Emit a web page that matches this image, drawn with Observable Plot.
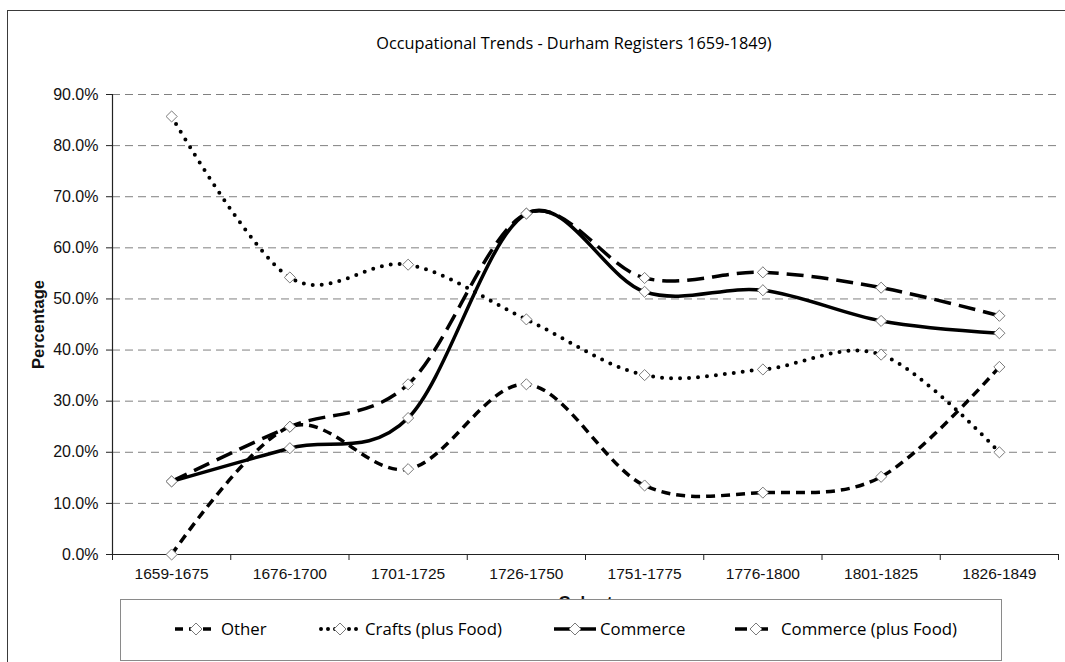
<!DOCTYPE html>
<html>
<head>
<meta charset="utf-8">
<script src="https://cdn.jsdelivr.net/npm/d3@7"></script>
<script src="https://cdn.jsdelivr.net/npm/@observablehq/plot@0.6"></script>
<style>
  html, body { margin: 0; padding: 0; background: #fff; overflow: hidden; }
  #wrap { position: relative; width: 1065px; height: 662px; overflow: hidden; }
  #frame { position: absolute; left: 7px; top: 10px; width: 1070px; height: 670px; border: 1.5px solid #3a3a3a; box-sizing: border-box; }
  #title { position: absolute; left: 0; width: 1148px; top: 32px; text-align: center; font-family: "Open Sans", "Noto Sans", sans-serif; font-size: 16.3px; color: #000; }
  #chart { position: absolute; left: 0; top: 0; }
  #legend { position: absolute; left: 120px; top: 599px; width: 882px; height: 62px; border: 1.5px solid #8a8a8a; box-sizing: border-box; background: #fff; font-family: "Open Sans", "Noto Sans", sans-serif; font-size: 16.8px; color: #000; }
  .item { position: absolute; top: 17px; display: flex; align-items: center; white-space: nowrap; }
  .item svg { margin-right: 3px; }
  #chart svg text { font-family: "Liberation Sans", Arial, sans-serif; }
  #chart svg g[aria-label="y-axis tick label"] { font-size: 16px; }
  #chart svg g[aria-label="x-axis tick label"] { font-size: 15.5px; }
  #chart svg g[aria-label="y-axis label"], #chart svg g[aria-label="x-axis label"] { font-weight: bold; font-size: 16.5px; }
</style>
</head>
<body>
<div id="wrap">
  <div id="frame"></div>
  <div id="chart"></div>
  <div id="title"></div>
  <div id="legend"></div>
</div>
<script>
// ---- Data (percent values) ----
const categories = ["1659-1675", "1676-1700", "1701-1725", "1726-1750", "1751-1775", "1776-1800", "1801-1825", "1826-1849"];
const seriesNames = ["Other", "Crafts (plus Food)", "Commerce", "Commerce (plus Food)"];
const other            = [0.0, 25.0, 16.7, 33.3, 13.5, 12.1, 15.2, 36.7];
const crafts           = [85.7, 54.2, 56.7, 46.0, 35.1, 36.2, 39.1, 20.0];
const commerce         = [14.3, 20.8, 26.7, 66.7, 51.4, 51.7, 45.7, 43.3];
const commercePlusFood = [14.3, 25.0, 33.3, 66.7, 54.1, 55.2, 52.2, 46.7];
const yTickValues = [0, 0.1, 0.2, 0.3, 0.4, 0.5, 0.6, 0.7, 0.8, 0.9];
const titleText = "Occupational Trends - Durham Registers 1659-1849)";
const xLabel = "Cohort";
const yLabel = "Percentage";

// ---- Styles per series ----
const styles = {
  "Other":                {strokeWidth: 3.5, strokeDasharray: "9,6", strokeLinecap: "butt"},
  "Crafts (plus Food)":   {strokeWidth: 4,   strokeDasharray: "0,9", strokeLinecap: "round"},
  "Commerce":             {strokeWidth: 3.5, strokeDasharray: null,  strokeLinecap: "butt"},
  "Commerce (plus Food)": {strokeWidth: 3.5, strokeDasharray: "17,8", strokeLinecap: "butt"}
};

const valuesBySeries = [other, crafts, commerce, commercePlusFood];
const rows = [];
seriesNames.forEach((s, k) => {
  valuesBySeries[k].forEach((v, i) => rows.push({series: s, xi: i + 0.5, cat: categories[i], value: v / 100}));
});
const centers = categories.map((c, i) => i + 0.5);
const boundaries = d3.range(categories.length + 1);

const lineMarks = seriesNames.map(s => Plot.line(rows.filter(r => r.series === s), {
  x: "xi", y: "value", curve: "cardinal", stroke: "#000",
  strokeWidth: styles[s].strokeWidth,
  strokeDasharray: styles[s].strokeDasharray,
  strokeLinecap: styles[s].strokeLinecap
}));

const chart = Plot.plot({
  width: 1065,
  height: 662,
  marginLeft: 112,
  marginRight: 7,
  marginTop: 94,
  marginBottom: 108,
  x: {type: "linear", domain: [0, categories.length]},
  y: {domain: [0, 0.9]},
  style: {fontFamily: "'Liberation Sans', Arial, sans-serif", fontSize: "16px", color: "#111", background: "transparent", overflow: "visible"},
  marks: [
    Plot.gridY(yTickValues, {stroke: "#808080", strokeOpacity: 1, strokeWidth: 1, strokeDasharray: "8,5"}),
    Plot.axisY(yTickValues, {tickSize: 6, tickPadding: 8, tickFormat: d3.format(".1%"), label: yLabel, labelAnchor: "center", labelOffset: 80, labelArrow: false, stroke: "#222"}),
    Plot.axisX(boundaries, {tickSize: 6, tickFormat: () => "", label: null, stroke: "#222"}),
    Plot.axisX(centers, {tickSize: 0, tickPadding: 13, tickFormat: d => categories[Math.floor(d)], label: xLabel, labelAnchor: "center", labelOffset: 53, labelArrow: false}),
    Plot.ruleX([0], {stroke: "#222", strokeWidth: 1.2}),
    Plot.ruleY([0], {stroke: "#222", strokeWidth: 1.2}),
    ...lineMarks,
    Plot.dot(rows, {x: "xi", y: "value", symbol: "diamond2", r: 5, fill: "#fff", stroke: "#7a7a7a", strokeWidth: 1})
  ]
});
document.getElementById("chart").appendChild(chart);
document.getElementById("title").textContent = titleText;

// ---- Legend ----
const legendLeft = [53, 197, 432, 613];
const legend = document.getElementById("legend");
seriesNames.forEach((s, k) => {
  const st = styles[s];
  const item = document.createElement("div");
  item.className = "item";
  item.style.left = legendLeft[k] + "px";
  const ns = "http://www.w3.org/2000/svg";
  const svg = document.createElementNS(ns, "svg");
  svg.setAttribute("width", 44); svg.setAttribute("height", 14);
  const ln = document.createElementNS(ns, "line");
  ln.setAttribute("x1", 1); ln.setAttribute("x2", 43); ln.setAttribute("y1", 7); ln.setAttribute("y2", 7);
  ln.setAttribute("stroke", "#000"); ln.setAttribute("stroke-width", st.strokeWidth);
  if (st.strokeDasharray) ln.setAttribute("stroke-dasharray", s === "Crafts (plus Food)" ? "0,7" : (s === "Other" ? "8,6" : "12,9"));
  ln.setAttribute("stroke-linecap", st.strokeLinecap);
  if (s === "Crafts (plus Food)") { ln.setAttribute("x1", 3); }
  svg.appendChild(ln);
  const dm = document.createElementNS(ns, "path");
  dm.setAttribute("d", "M22,1 L28,7 L22,13 L16,7 Z");
  dm.setAttribute("fill", "#fff"); dm.setAttribute("stroke", "#7a7a7a"); dm.setAttribute("stroke-width", 1);
  svg.appendChild(dm);
  item.appendChild(svg);
  const tx = document.createElement("span");
  tx.textContent = s;
  item.appendChild(tx);
  legend.appendChild(item);
});
</script>
</body>
</html>
